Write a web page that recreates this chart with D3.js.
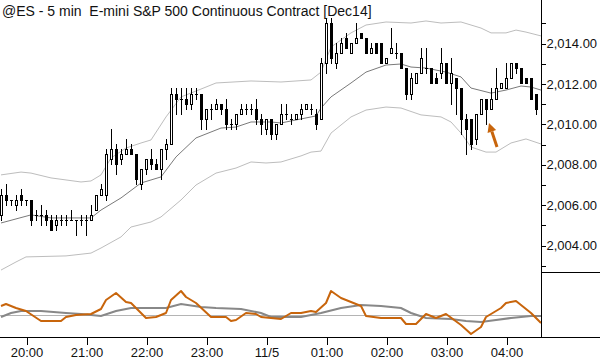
<!DOCTYPE html>
<html>
<head>
<meta charset="utf-8">
<script src="https://cdn.jsdelivr.net/npm/d3@7"></script>
<style>
  html, body { margin: 0; padding: 0; background: #fff; }
  #chart svg { display: block; }
  text { font-family: "Liberation Sans", Arial, sans-serif; fill: #111; }
</style>
</head>
<body>
<div id="chart"></div>
<script>
// 5 min bars, 19:35 -> 04:30
const firstBar = new Date(2014, 10, 4, 19, 35);
const barMinutes = 5;

const opens = [
  2005.5, 2006.5, 2006.25, 2006.0, 2006.5, 2006.25, 2006.25, 2005.5, 2005.5, 2005.5, 2005.25, 2005.0,
  2005.25, 2005.25, 2005.25, 2005.25, 2005.25, 2005.25, 2005.25, 2005.75, 2006.5, 2006.5, 2008.25, 2008.75,
  2008.25, 2008.5, 2008.75, 2008.5, 2007.0, 2007.75, 2008.25, 2008.0, 2007.75, 2008.75, 2009.0, 2011.5,
  2011.25, 2011.25, 2011.0, 2011.5, 2011.5, 2010.25, 2010.75, 2010.75, 2011.0, 2010.75, 2010.0, 2010.0,
  2010.5, 2010.75, 2010.75, 2010.75, 2010.25, 2009.75, 2010.25, 2009.5, 2010.0, 2010.5, 2010.25, 2010.25,
  2010.5, 2010.75, 2010.75, 2010.5, 2010.25, 2013.0, 2015.0, 2013.0, 2013.5, 2014.25, 2013.5, 2014.0,
  2014.5, 2014.25, 2013.5, 2014.0, 2014.0, 2013.0, 2013.5, 2013.5, 2013.5, 2012.75, 2011.5, 2012.0,
  2012.5, 2012.75, 2012.75, 2012.25, 2012.5, 2013.0, 2012.0, 2012.25, 2011.75, 2010.25, 2010.25, 2009.25,
  2010.5, 2011.25, 2010.75, 2011.25, 2011.75, 2011.75, 2012.25, 2013.0, 2012.75, 2012.25, 2012.25, 2011.5
];
const highs = [
  2006.75, 2007.0, 2006.25, 2006.5, 2006.75, 2006.25, 2006.25, 2005.75, 2006.0, 2005.75, 2005.5, 2005.5,
  2005.5, 2005.5, 2005.75, 2005.25, 2005.5, 2005.5, 2006.0, 2006.5, 2007.0, 2008.75, 2009.75, 2009.0,
  2008.75, 2009.25, 2009.0, 2008.5, 2007.75, 2008.25, 2008.75, 2008.25, 2008.75, 2009.25, 2011.75, 2011.75,
  2011.75, 2011.75, 2011.75, 2011.75, 2011.5, 2010.75, 2011.0, 2011.25, 2011.0, 2011.25, 2010.25, 2010.5,
  2011.0, 2011.0, 2011.0, 2011.25, 2010.5, 2010.25, 2010.25, 2010.0, 2011.0, 2011.0, 2010.5, 2010.5,
  2011.0, 2011.0, 2011.0, 2010.75, 2013.25, 2015.25, 2015.25, 2014.0, 2014.25, 2014.5, 2014.0, 2015.0,
  2014.5, 2014.25, 2014.0, 2014.0, 2014.0, 2013.25, 2014.75, 2014.0, 2013.5, 2012.75, 2012.5, 2012.5,
  2013.75, 2013.75, 2012.75, 2012.5, 2013.75, 2013.0, 2013.25, 2012.25, 2011.75, 2010.5, 2010.25, 2010.5,
  2011.25, 2011.25, 2011.75, 2012.75, 2012.0, 2013.0, 2013.0, 2013.0, 2012.75, 2012.25, 2012.25, 2011.5
];
const lows = [
  2005.25, 2006.0, 2006.0, 2005.75, 2006.0, 2006.0, 2005.0, 2005.25, 2005.0, 2005.0, 2004.75, 2004.75,
  2005.0, 2005.0, 2005.25, 2004.5, 2005.0, 2004.5, 2005.25, 2005.75, 2006.5, 2006.25, 2008.0, 2007.5,
  2008.0, 2008.5, 2008.5, 2007.0, 2006.75, 2007.5, 2007.75, 2007.75, 2007.25, 2008.25, 2009.0, 2010.5,
  2010.5, 2010.75, 2010.75, 2011.25, 2009.75, 2009.75, 2010.25, 2010.75, 2010.5, 2009.75, 2009.75, 2009.75,
  2010.5, 2010.5, 2010.5, 2010.0, 2009.5, 2009.5, 2009.25, 2009.25, 2010.0, 2010.25, 2010.0, 2010.25,
  2010.25, 2010.75, 2010.5, 2009.75, 2010.25, 2012.5, 2013.0, 2012.75, 2013.5, 2013.75, 2013.5, 2014.0,
  2014.25, 2013.5, 2013.5, 2013.5, 2013.0, 2013.0, 2013.5, 2013.25, 2012.75, 2011.25, 2011.25, 2012.0,
  2012.5, 2012.5, 2012.0, 2012.0, 2012.25, 2012.0, 2011.0, 2010.5, 2009.5, 2008.5, 2008.75, 2009.0,
  2010.5, 2010.0, 2010.75, 2011.25, 2011.75, 2011.75, 2012.25, 2012.5, 2012.0, 2012.0, 2011.25, 2010.5
];
const closes = [
  2006.5, 2006.25, 2006.25, 2006.25, 2006.25, 2006.25, 2005.25, 2005.5, 2005.5, 2005.25, 2004.75, 2005.25,
  2005.25, 2005.25, 2005.25, 2005.25, 2005.25, 2005.25, 2005.5, 2006.5, 2006.75, 2008.5, 2008.75, 2008.0,
  2008.5, 2008.75, 2008.5, 2007.25, 2007.75, 2008.25, 2008.0, 2007.75, 2008.75, 2009.0, 2011.5, 2011.25,
  2011.25, 2011.0, 2011.5, 2011.5, 2010.25, 2010.75, 2010.75, 2011.0, 2010.75, 2010.0, 2010.0, 2010.5,
  2010.75, 2010.75, 2010.75, 2010.25, 2010.0, 2010.25, 2009.5, 2010.0, 2010.5, 2010.5, 2010.25, 2010.5,
  2010.75, 2011.0, 2010.75, 2010.0, 2013.0, 2015.0, 2013.25, 2013.5, 2014.0, 2013.75, 2014.0, 2014.25,
  2014.25, 2013.5, 2013.75, 2013.5, 2013.0, 2013.25, 2013.75, 2013.5, 2012.75, 2011.5, 2012.25, 2012.5,
  2013.25, 2012.75, 2012.0, 2012.0, 2013.0, 2012.0, 2012.5, 2011.75, 2010.25, 2009.75, 2009.0, 2010.5,
  2011.25, 2010.75, 2011.25, 2011.75, 2012.0, 2012.25, 2013.0, 2012.75, 2012.0, 2012.0, 2011.25, 2010.75
];

// Bollinger bands, read at sample bars
const midBars = [0, 6, 10, 18, 20, 24, 28, 30, 32, 35, 39, 44, 47, 50, 54, 56, 60, 63, 64, 66, 70, 73, 77, 80, 82, 85, 89, 92, 94, 98, 101, 104, 106, 108];
const midBand = [2005.09, 2005.49, 2005.34, 2005.34, 2005.73, 2006.33, 2007.07, 2007.22, 2007.37, 2008.36, 2009.30, 2009.79, 2009.84, 2010.09, 2010.09, 2010.04, 2010.24, 2010.39, 2010.78, 2011.33, 2012.02, 2012.56, 2012.91, 2012.96, 2012.81, 2012.76, 2012.56, 2012.32, 2011.77, 2011.52, 2011.67, 2011.87, 2011.82, 2011.67];
const upperBars = [0, 4, 6, 10, 16, 18, 20, 22, 25, 28, 30, 33, 36, 40, 43, 50, 56, 62, 64, 66, 70, 73, 77, 82, 85, 88, 92, 96, 98, 101, 103, 105, 108];
const upperBand = [2007.47, 2007.61, 2007.56, 2007.32, 2007.12, 2007.17, 2007.47, 2008.31, 2008.80, 2009.05, 2009.20, 2010.34, 2011.33, 2011.72, 2012.02, 2012.12, 2012.07, 2012.17, 2012.56, 2013.80, 2014.50, 2014.89, 2015.04, 2014.99, 2015.09, 2014.99, 2015.04, 2014.74, 2014.50, 2014.50, 2014.64, 2014.54, 2014.35];
const lowerBars = [0, 3, 5, 13, 18, 20, 24, 26, 30, 32, 36, 39, 43, 47, 50, 53, 56, 60, 62, 64, 66, 70, 73, 77, 80, 84, 88, 90, 92, 94, 97, 99, 102, 105, 108];
const lowerBand = [2002.76, 2003.16, 2003.41, 2003.46, 2003.60, 2003.85, 2004.40, 2004.89, 2005.14, 2005.39, 2006.23, 2006.97, 2007.56, 2007.81, 2008.11, 2008.06, 2008.11, 2008.41, 2008.60, 2008.65, 2009.54, 2010.34, 2010.68, 2010.83, 2010.78, 2010.44, 2010.34, 2010.09, 2009.54, 2008.85, 2008.60, 2008.60, 2009.05, 2009.25, 2009.00];

// lower panel oscillator
const fastBars = [0, 1, 3, 5, 8, 12, 13, 15, 18, 20, 21, 23, 25, 26, 29, 31, 33, 34, 36, 37, 39, 42, 45, 46, 47, 49, 51, 52, 56, 58, 60, 62, 63, 65, 66, 68, 70, 72, 73, 76, 80, 81, 83, 85, 87, 89, 92, 94, 96, 97, 100, 101, 103, 106, 108];
const fastOsc = [0.9, 1.1, 0.7, 0.4, -0.6, -0.6, -0.2, 0.0, 0.1, 0.6, 1.5, 2.2, 1.3, 1.2, -0.3, -0.2, 0.2, 1.5, 2.4, 1.8, 1.2, -0.2, -0.2, -0.6, -0.5, 0.2, 0.1, -0.2, -0.4, 0.2, 0.2, 0.4, 0.3, 1.2, 2.4, 1.7, 1.3, 0.9, -0.1, -0.3, -0.3, -0.9, -0.9, 0.1, -0.3, 0.1, -1.0, -1.9, -1.2, -0.2, 0.7, 1.2, 1.4, 0.2, -0.8];
const slowBars = [0, 2, 4, 8, 13, 16, 20, 23, 26, 33, 36, 40, 43, 48, 52, 54, 60, 64, 68, 72, 76, 80, 82, 85, 90, 93, 96, 99, 102, 106, 108];
const slowOsc = [-0.2, 0.2, 0.4, 0.4, 0.2, 0.1, -0.1, 0.4, 0.7, 0.7, 1.1, 0.8, 0.7, 0.6, 0.2, -0.2, -0.2, 0.2, 0.7, 1.0, 0.9, 0.7, 0.2, -0.3, -0.4, -0.6, -0.7, -0.5, -0.3, -0.1, -0.1];

const priceTicks = d3.range(2003, 2016);
const title = "@ES - 5 min  E-mini S&P 500 Continuous Contract [Dec14]";
const arrowBars = [99.2, 97.6];
const arrowPrices = [2008.85, 2010.04];

(function () {
  const width = 600, height = 360;
  const plotRight = 541;
  const priceBottom = 272;
  const axisY = 337;

  const barTime = (i) => new Date(firstBar.getTime() + i * barMinutes * 60000);

  const x = d3.scaleTime()
    .domain([new Date(2014, 10, 4, 19, 30), new Date(2014, 10, 5, 4, 35)])
    .range([-4, plotRight]);
  const y = d3.scaleLinear().domain([2004, 2014]).range([245, 43]);
  const yOsc = d3.scaleLinear().domain([-2.2, 4.3]).range([axisY, priceBottom]);

  const svg = d3.select("#chart").append("svg")
    .attr("width", width).attr("height", height);
  svg.append("rect").attr("width", width).attr("height", height).attr("fill", "#fff");

  const defs = svg.append("defs");
  defs.append("clipPath").attr("id", "priceClip")
    .append("rect").attr("x", 0).attr("y", 0).attr("width", plotRight).attr("height", priceBottom);
  defs.append("clipPath").attr("id", "oscClip")
    .append("rect").attr("x", 0).attr("y", priceBottom).attr("width", plotRight).attr("height", axisY - priceBottom);

  // bands
  const band = (bars, vals) => d3.line()
    .x((d, k) => x(barTime(bars[k])))
    .y((d) => y(d))(vals);
  const bands = svg.append("g").attr("clip-path", "url(#priceClip)").attr("fill", "none");
  bands.append("path").attr("d", band(upperBars, upperBand)).attr("stroke", "#bdbdbd").attr("stroke-width", 1);
  bands.append("path").attr("d", band(lowerBars, lowerBand)).attr("stroke", "#bdbdbd").attr("stroke-width", 1);
  bands.append("path").attr("d", band(midBars, midBand)).attr("stroke", "#7a7a7a").attr("stroke-width", 1);

  // candles
  const bars = opens.map((o, i) => ({ i, o, h: highs[i], l: lows[i], c: closes[i] }));
  const candles = svg.append("g").attr("clip-path", "url(#priceClip)")
    .attr("shape-rendering", "crispEdges")
    .selectAll("g").data(bars).join("g");

  candles.append("line")
    .attr("x1", (d) => Math.round(x(barTime(d.i))) + 0.5)
    .attr("x2", (d) => Math.round(x(barTime(d.i))) + 0.5)
    .attr("y1", (d) => Math.round(y(d.h)))
    .attr("y2", (d) => Math.round(y(d.l)) + 1)
    .attr("stroke", "#000");

  candles.each(function (d) {
    const g = d3.select(this);
    const cx = Math.round(x(barTime(d.i)));
    const top = Math.round(y(Math.max(d.o, d.c)));
    const bot = Math.round(y(Math.min(d.o, d.c)));
    if (d.c > d.o) {
      g.append("rect")
        .attr("x", cx - 0.5).attr("y", top + 0.5)
        .attr("width", 2).attr("height", Math.max(1, bot - top))
        .attr("fill", "#fff").attr("stroke", "#000");
    } else {
      g.append("rect")
        .attr("x", cx - 1).attr("y", top)
        .attr("width", 3).attr("height", Math.max(1, bot - top + 1))
        .attr("fill", "#000");
    }
  });

  // oscillator panel
  const osc = svg.append("g").attr("clip-path", "url(#oscClip)").attr("fill", "none");
  osc.append("line")
    .attr("x1", 0).attr("x2", plotRight)
    .attr("y1", Math.round(yOsc(0)) + 0.5).attr("y2", Math.round(yOsc(0)) + 0.5)
    .attr("stroke", "#b4b4b4");
  const oscLine = (bars, vals) => d3.line()
    .x((d, k) => x(barTime(bars[k])))
    .y((d) => yOsc(d))(vals);
  osc.append("path").attr("d", oscLine(slowBars, slowOsc))
    .attr("stroke", "#888").attr("stroke-width", 2.2);
  osc.append("path").attr("d", oscLine(fastBars, fastOsc))
    .attr("stroke", "#c8650c").attr("stroke-width", 2).attr("stroke-linejoin", "round");

  // annotation arrow
  const ax0 = x(barTime(arrowBars[0])), ay0 = y(arrowPrices[0]);
  const ax1 = x(barTime(arrowBars[1])), ay1 = y(arrowPrices[1]);
  const ang = Math.atan2(ay1 - ay0, ax1 - ax0);
  const headLen = 9, headW = 4.5;
  const bx = ax1 - headLen * Math.cos(ang), by = ay1 - headLen * Math.sin(ang);
  svg.append("line")
    .attr("x1", ax0).attr("y1", ay0).attr("x2", bx).attr("y2", by)
    .attr("stroke", "#c8650c").attr("stroke-width", 3);
  svg.append("path")
    .attr("d", `M${ax1},${ay1}L${bx - headW * Math.sin(ang)},${by + headW * Math.cos(ang)}L${bx + headW * Math.sin(ang)},${by - headW * Math.cos(ang)}Z`)
    .attr("fill", "#c8650c");

  // frame lines
  const frame = svg.append("g").attr("stroke", "#000").attr("shape-rendering", "crispEdges");
  frame.append("line").attr("x1", plotRight + 0.5).attr("x2", plotRight + 0.5).attr("y1", 0).attr("y2", axisY);
  frame.append("line").attr("x1", 0).attr("x2", width).attr("y1", axisY + 0.5).attr("y2", axisY + 0.5);
  frame.append("line").attr("x1", plotRight).attr("x2", width).attr("y1", priceBottom + 0.5).attr("y2", priceBottom + 0.5);

  // price axis
  const yAxis = svg.append("g")
    .attr("transform", `translate(${plotRight + 0.5},0.5)`)
    .attr("shape-rendering", "crispEdges")
    .call(d3.axisRight(y)
      .tickValues(priceTicks)
      .tickSize(4)
      .tickPadding(1)
      .tickFormat((d) => (d % 2 === 0 ? d3.format(",.2f")(d) : "")));
  yAxis.select(".domain").remove();
  yAxis.selectAll("line").attr("stroke", "#000");
  yAxis.selectAll("text").attr("font-family", "Liberation Sans, Arial, sans-serif")
    .attr("font-size", 13).attr("fill", "#111");

  // time axis
  const xAxis = svg.append("g")
    .attr("transform", `translate(0.5,${axisY + 0.5})`)
    .attr("shape-rendering", "crispEdges")
    .call(d3.axisBottom(x)
      .ticks(d3.timeHour.every(1))
      .tickSize(7)
      .tickPadding(3)
      .tickFormat((d) => (d.getHours() === 0 ? d3.timeFormat("%-m/%-d")(d) : d3.timeFormat("%H:%M")(d))));
  xAxis.select(".domain").remove();
  xAxis.selectAll("line").attr("stroke", "#000");
  xAxis.selectAll("text").attr("font-family", "Liberation Sans, Arial, sans-serif")
    .attr("font-size", 13).attr("fill", "#111");

  svg.append("text")
    .attr("x", 2).attr("y", 16)
    .attr("font-size", 14)
    .style("white-space", "pre")
    .text(title);
})();
</script>
</body>
</html>
